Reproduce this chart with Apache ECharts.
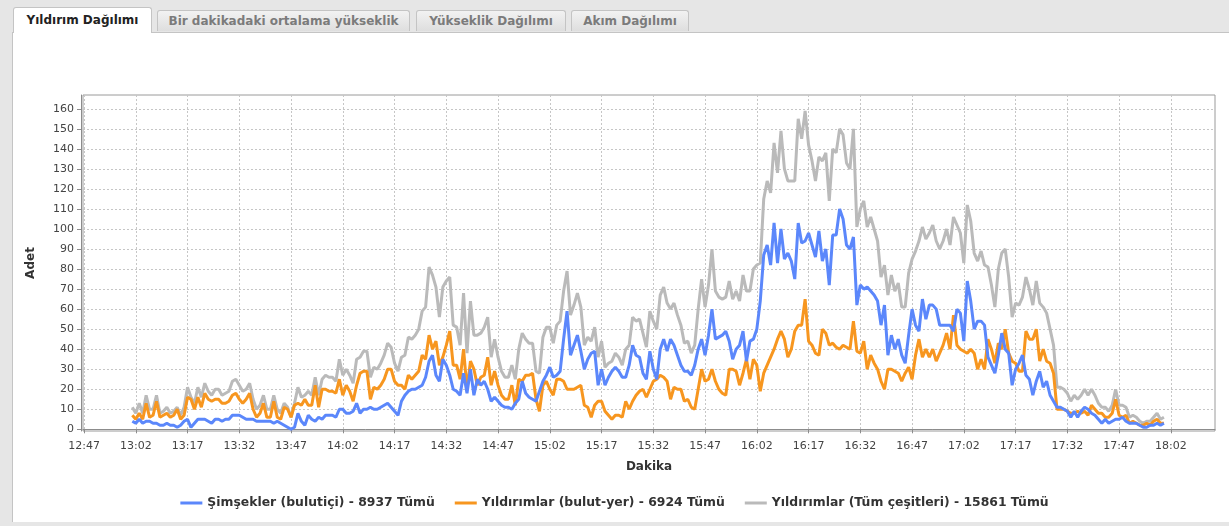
<!DOCTYPE html>
<html>
<head>
<meta charset="utf-8">
<script src="https://cdn.jsdelivr.net/npm/echarts@6/dist/echarts.min.js"></script>
<style>
  html, body { margin: 0; padding: 0; width: 1229px; height: 526px; overflow: hidden; background: #e6e6e6; font-family: "DejaVu Sans", sans-serif; }
  .tab { position: absolute; top: 10px; height: 21px; line-height: 21px; text-align: center; font-size: 12px; font-weight: bold; color: #7b7b7b;
         background: linear-gradient(#f2f2f2, #dedede); border: 1px solid #c4c4c4; border-bottom: none; border-radius: 3px 3px 0 0; box-sizing: border-box; }
  .tab.active { top: 7px; height: 26px; line-height: 25px; background: #fff; color: #222; z-index: 2; }
  #panel { position: absolute; left: 12px; top: 32px; width: 1217px; height: 490px; background: #fff; border-top: 1px solid #c4c4c4; border-left: 1px solid #c4c4c4; box-sizing: border-box; }
  #chart { position: absolute; left: 0; top: 0; width: 1229px; height: 526px; }
</style>
</head>
<body>
<div id="panel"></div>
<div class="tab active" style="left:13px;width:139px;">Yıldırım Dağılımı</div>
<div class="tab" style="left:157px;width:253px;">Bir dakikadaki ortalama yükseklik</div>
<div class="tab" style="left:416px;width:150px;">Yükseklik Dağılımı</div>
<div class="tab" style="left:571px;width:118px;">Akım Dağılımı</div>
<div id="chart"></div>
<script>
// dakika başına sayımlar, 13:01'den 18:00'e kadar
const firstMinute = '13:01';

const seriesNames = [
  'Şimşekler (bulutiçi) - 8937 Tümü',
  'Yıldırımlar (bulut-yer) - 6924 Tümü',
  'Yıldırımlar (Tüm çeşitleri) - 15861 Tümü'
];

const xTickLabels = ['12:47', '13:02', '13:17', '13:32', '13:47', '14:02', '14:17', '14:32', '14:47', '15:02', '15:17',
  '15:32', '15:47', '16:02', '16:17', '16:32', '16:47', '17:02', '17:17', '17:32', '17:47', '18:02'];
const yTickValues = [0, 10, 20, 30, 40, 50, 60, 70, 80, 90, 100, 110, 120, 130, 140, 150, 160];

const cloudCounts = [
  4,3,5,3,4,4,3,3,2,2,3,2,2,1,2,4,
  5,1,3,5,5,5,4,3,5,5,4,5,5,7,7,
  7,6,5,5,5,4,4,4,4,4,3,4,3,2,1,
  0,1,8,4,2,7,5,4,6,5,
  7,7,7,6,10,10,8,8,9,13,
  8,10,10,11,10,10,11,12,13,11,
  9,7,14,17,19,20,20,21,22,26,
  34,37,27,24,35,32,27,20,19,17,28,
  18,30,17,25,22,24,20,14,16,14,
  12,11,11,10,13,15,24,18,16,15,
  14,19,24,27,31,26,27,29,45,59,
  37,42,47,39,30,35,38,39,22,30,
  22,26,29,31,29,26,26,32,42,37,
  36,28,25,39,30,25,40,45,39,45,
  42,37,32,29,29,27,32,40,45,37,
  47,60,45,46,47,49,44,35,40,42,
  49,34,44,45,50,64,87,92,82,103,
  83,100,85,88,84,75,103,93,94,98,
  92,86,99,84,90,72,97,97,110,105,
  92,90,96,62,72,70,71,69,67,64,
  52,62,37,47,40,45,37,33,47,60,
  52,49,65,55,62,62,60,52,52,52,
  52,49,60,58,44,74,64,50,54,
  54,52,36,32,28,37,48,40,38,22,
  30,33,37,27,25,17,24,29,21,24,
  17,14,11,11,10,9,6,9,6,9,
  11,10,8,7,5,3,5,3,4,5,
  5,6,4,3,3,3,2,1,1,2,
  2,3,2,3
];

const groundCounts = [
  7,5,8,5,13,6,7,14,6,7,8,6,7,10,5,7,
  16,15,10,16,11,18,15,14,15,15,13,13,14,17,18,
  15,13,15,18,10,6,8,13,6,6,14,6,5,11,10,
  6,12,13,12,15,12,12,22,11,20,
  20,19,19,18,25,17,22,19,14,22,
  28,29,29,15,21,20,22,25,30,30,
  24,22,22,20,27,25,27,29,37,35,
  47,40,44,32,36,42,49,32,32,25,40,
  20,34,30,22,26,27,36,22,29,22,
  17,15,15,22,12,25,24,27,27,28,
  15,9,22,24,20,17,25,25,24,20,
  20,20,21,22,12,11,6,12,14,14,
  9,7,5,7,7,6,14,10,14,17,
  19,20,16,20,24,25,27,26,24,15,
  21,20,20,14,15,11,10,20,30,24,
  25,30,24,20,18,17,30,30,29,22,
  28,35,25,35,32,19,28,32,36,40,
  45,49,45,36,40,49,52,52,65,44,
  42,38,37,50,48,42,43,41,40,42,
  41,40,54,39,38,44,30,37,33,30,
  24,20,30,30,29,28,24,28,31,25,
  37,45,36,40,36,40,34,38,42,48,
  40,57,42,40,39,38,40,38,30,
  35,30,45,40,33,43,40,50,38,34,
  33,29,29,49,45,45,50,34,40,34,
  33,28,10,10,10,9,8,8,9,8,
  9,7,12,10,8,8,6,6,8,15,
  7,6,7,3,4,3,2,2,3,2,
  4,5,3,3
];

const allCounts = [
  11,8,13,8,17,10,10,17,8,9,11,8,9,11,7,11,
  21,16,13,21,16,23,19,17,20,20,17,18,19,24,25,
  22,19,20,23,15,10,12,17,10,10,17,10,8,13,11,
  6,13,21,16,17,19,17,26,17,25,
  27,26,26,24,35,27,30,27,23,35,
  36,39,39,26,31,30,33,37,43,41,
  33,29,36,37,46,45,47,50,59,61,
  81,77,71,56,71,74,76,52,51,42,68,
  38,64,47,47,48,51,56,36,45,36,
  29,26,26,32,25,40,48,45,43,43,
  29,28,46,51,51,43,52,54,69,79,
  57,62,68,61,42,46,44,51,36,44,
  31,33,34,38,36,32,40,42,56,54,
  55,48,41,59,54,50,67,71,63,60,
  63,57,52,43,44,38,42,60,75,61,
  72,90,69,66,65,66,74,65,69,64,
  77,69,69,80,82,83,115,124,118,143,
  128,149,130,124,124,124,155,145,159,142,
  134,124,136,134,138,114,140,138,150,147,
  133,130,150,101,110,114,101,106,100,94,
  76,82,67,77,69,73,61,61,78,85,
  89,94,101,95,98,102,94,90,94,100,
  92,106,102,98,83,112,104,88,84,
  89,82,81,72,61,80,88,90,76,56,
  63,62,66,76,70,62,74,63,61,58,
  50,42,21,21,20,18,14,17,15,17,
  20,17,20,17,13,11,11,9,12,20,
  12,12,11,6,7,6,4,3,4,4,
  6,8,5,6
];

const colors = ['#5b87fb', '#f7961f', '#bababa'];

function toMinutes(s) {
  const p = s.split(':');
  return parseInt(p[0], 10) * 60 + parseInt(p[1], 10);
}
function fmtMinutes(v) {
  const m = Math.round(v);
  const h = Math.floor(m / 60), mm = m % 60;
  return h + ':' + (mm < 10 ? '0' + mm : mm);
}

const start = toMinutes(firstMinute);
const xTickValues = xTickLabels.map(toMinutes);
const toPairs = arr => arr.map((v, i) => [start + i, v]);

const chart = echarts.init(document.getElementById('chart'), null, { renderer: 'canvas' });

const axisFont = { fontFamily: 'DejaVu Sans', fontSize: 11, color: '#444' };
const gridLine = { show: true, lineStyle: { color: '#c6c6c6', width: 1, type: [2, 2] } };

const option = {
  animation: false,
  grid: { left: 83, right: 14, top: 95, bottom: 95, show: true, borderColor: '#9a9a9a', borderWidth: 1, backgroundColor: '#fff' },
  legend: {
    data: seriesNames,
    left: 'center',
    top: 492,
    icon: 'rect',
    itemWidth: 22,
    itemHeight: 3,
    itemGap: 20,
    textStyle: { fontFamily: 'DejaVu Sans', fontWeight: 'bold', fontSize: 12.4, color: '#333' }
  },
  xAxis: {
    type: 'value',
    min: 766.7,
    max: 1094.8,
    offset: 3,
    name: 'Dakika',
    nameLocation: 'middle',
    nameGap: 27,
    nameTextStyle: { fontFamily: 'DejaVu Sans', fontWeight: 'bold', fontSize: 12, color: '#333' },
    axisLine: { show: true, lineStyle: { color: '#8c8c8c' } },
    axisTick: { show: true, length: 4, customValues: xTickValues, lineStyle: { color: '#8c8c8c' } },
    axisLabel: Object.assign({ customValues: xTickValues, formatter: fmtMinutes, margin: 7 }, axisFont),
    splitLine: gridLine
  },
  yAxis: {
    type: 'value',
    min: -0.85,
    max: 166.9,
    offset: 2,
    name: 'Adet',
    nameLocation: 'middle',
    nameGap: 44,
    nameRotate: 90,
    nameTextStyle: { fontFamily: 'DejaVu Sans', fontWeight: 'bold', fontSize: 12, color: '#333' },
    axisLine: { show: true, lineStyle: { color: '#8c8c8c' } },
    axisTick: { show: true, length: 4, customValues: yTickValues, lineStyle: { color: '#8c8c8c' } },
    axisLabel: Object.assign({ customValues: yTickValues, margin: 7 }, axisFont),
    splitLine: gridLine
  },
  series: [
    { name: seriesNames[2], type: 'line', z: 1, data: toPairs(allCounts), showSymbol: false, symbol: 'none', color: colors[2], lineStyle: { width: 3, color: colors[2] } },
    { name: seriesNames[1], type: 'line', z: 2, data: toPairs(groundCounts), showSymbol: false, symbol: 'none', color: colors[1], lineStyle: { width: 3, color: colors[1] } },
    { name: seriesNames[0], type: 'line', z: 3, data: toPairs(cloudCounts), showSymbol: false, symbol: 'none', color: colors[0], lineStyle: { width: 3, color: colors[0] } }
  ]
};

chart.setOption(option);
</script>
</body>
</html>
